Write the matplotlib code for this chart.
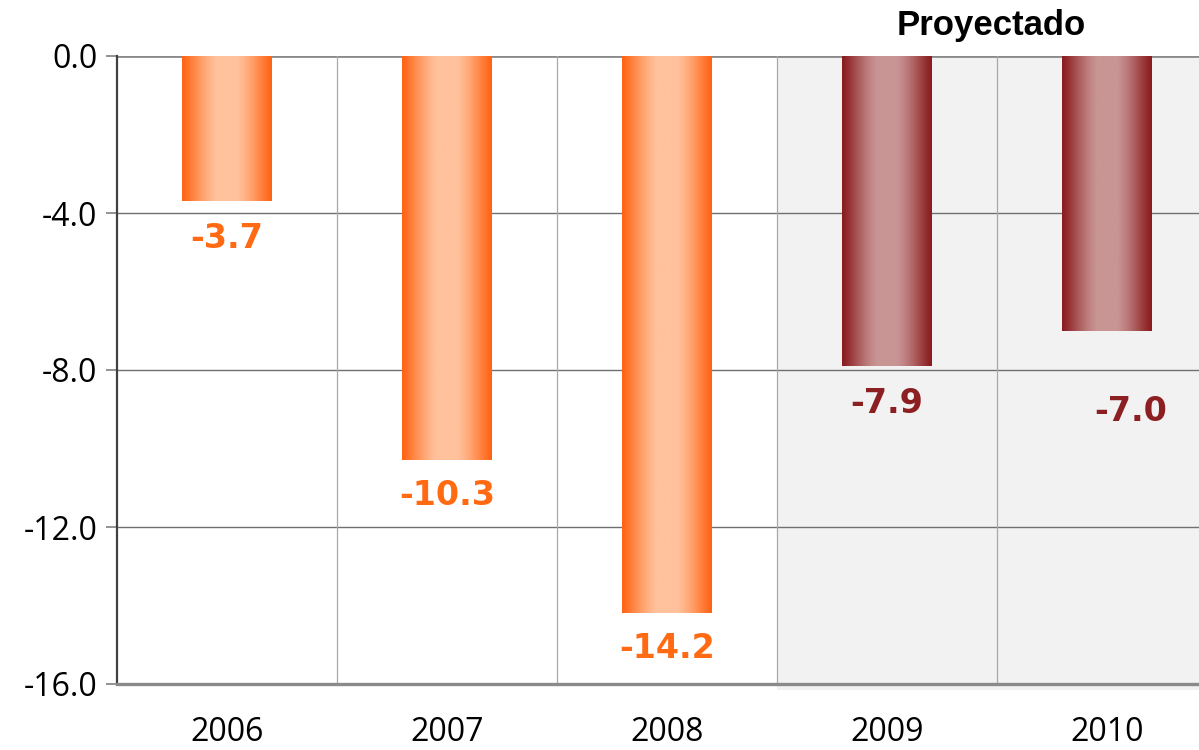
import numpy as np
import matplotlib
matplotlib.use("Agg")
import matplotlib.pyplot as plt
from matplotlib.colors import LinearSegmentedColormap
from matplotlib.patches import Rectangle

years = ["2006", "2007", "2008", "2009", "2010"]
values = [-3.7, -10.3, -14.2, -7.9, -7.0]
projected = [False, False, False, True, True]
yticks = [0.0, -4.0, -8.0, -12.0, -16.0]
header = "Proyectado"

# style
orange_edge, orange_mid = "#FF6414", "#FFC29C"
red_edge, red_mid = "#8A1C1E", "#C99494"
orange_text, red_text = "#FF6A13", "#8B1F22"
label_dy = [-37, -35, -35, -37, -81]   # pixel offsets below bar end
label_dx = [0, 0, 0, 0, 24]

W, H = 1199, 750
fig = plt.figure(figsize=(W / 100, H / 100), dpi=100)
ax = fig.add_axes([117 / W, 66 / H, 1100 / W, 628 / H])
ax.set_xlim(-0.5, 4.5)
ax.set_ylim(-16, 0)

# projected shaded region
ax.add_patch(Rectangle((2.5, -16.15), 2.2, 16.15, facecolor="#F2F2F2",
                       edgecolor="none", zorder=0, clip_on=False))

# grid
for y in [-4, -8, -12]:
    ax.axhline(y, color="#707070", lw=1.0, zorder=1)
ax.axhline(0, color="#8a8a8a", lw=2.0, zorder=1)
for xv in [0.5, 1.5, 2.5, 3.5]:
    ax.axvline(xv, color="#a8a8a8", lw=0.9, zorder=1)

bw = 0.405
t = np.linspace(0, 1, 256)
prof = np.clip(np.sin(np.pi * t) ** 1.2 * 1.08, 0, 1)
for i, (v, p) in enumerate(zip(values, projected)):
    e, m = (red_edge, red_mid) if p else (orange_edge, orange_mid)
    cmap = LinearSegmentedColormap.from_list("g", [e, m])
    ax.imshow(prof[None, :], cmap=cmap, vmin=0, vmax=1, aspect="auto",
              extent=(i - bw / 2, i + bw / 2, v, 0), zorder=2,
              interpolation="bilinear")
    ax.annotate(f"{v:.1f}", xy=(i, v), xytext=(label_dx[i] * 0.72, label_dy[i] * 0.72),
                textcoords="offset points", ha="center", va="center",
                fontsize=24, fontweight="bold", family="DejaVu Sans",
                color=red_text if p else orange_text, zorder=3)

ax.set_xticks(range(len(years)))
ax.set_xticklabels(years)
ax.set_yticks(yticks)
ax.set_yticklabels([f"{y:.1f}" for y in yticks])
ax.tick_params(axis="x", length=0, pad=23, labelsize=23)
ax.tick_params(axis="y", length=8, width=1.2, color="#808080", pad=6, labelsize=23)
for lab in ax.get_xticklabels() + ax.get_yticklabels():
    lab.set_family("Open Sans")

for s in ["top", "right"]:
    ax.spines[s].set_visible(False)
ax.spines["left"].set_color("#404040")
ax.spines["left"].set_linewidth(1.6)
ax.spines["bottom"].set_color("#8a8a8a")
ax.spines["bottom"].set_linewidth(2.4)
ax.set_facecolor("white")

fig.text(991 / W, 1 - 25 / H, header, ha="center", va="center",
         fontsize=25, fontweight="bold", family="Liberation Sans")

fig.savefig("out.png", dpi=100)
